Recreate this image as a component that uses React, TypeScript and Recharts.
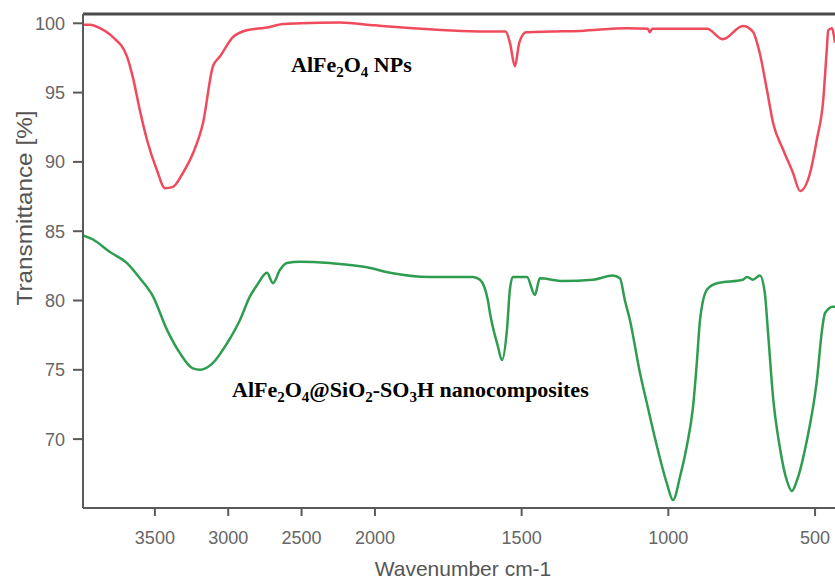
import { LineChart, Line, XAxis, YAxis, ReferenceLine } from 'recharts';

// AlFe2O4 NPs spectrum: wavenumber (cm-1) and transmittance (%)
const npWave = [3990, 3943, 3875, 3786, 3690, 3650, 3602, 3554, 3486, 3431, 3377, 3309, 3241, 3172, 3104, 3057, 2968, 2873, 2736, 2627, 2511, 2239, 2000, 1870, 1598, 1555, 1540, 1523, 1508, 1485, 1400, 1300, 1141, 1070, 1063, 1055, 868, 814, 746, 712, 688, 664, 643, 609, 575, 551, 517, 494, 472, 460, 455, 443, 432];
const npTrans = [99.9, 99.9, 99.65, 99.0, 97.6, 96.1, 93.7, 91.6, 89.4, 88.1, 88.2, 89.2, 90.6, 92.8, 96.9, 97.6, 99.0, 99.5, 99.7, 99.95, 100.0, 100.05, 99.85, 99.65, 99.4, 99.4, 98.6, 96.9, 98.6, 99.35, 99.4, 99.45, 99.65, 99.6, 99.35, 99.6, 99.6, 98.85, 99.8, 99.4, 97.8, 95.2, 92.8, 90.9, 89.2, 87.9, 89.2, 91.6, 94.5, 98.1, 99.5, 99.65, 98.6];

// AlFe2O4@SiO2-SO3H nanocomposites spectrum
const compWave = [3990, 3922, 3806, 3690, 3602, 3513, 3418, 3329, 3241, 3193, 3104, 3009, 2920, 2852, 2804, 2736, 2695, 2648, 2600, 2511, 2307, 2055, 1949, 1813, 1666, 1642, 1615, 1608, 1581, 1567, 1550, 1540, 1530, 1482, 1455, 1438, 1359, 1257, 1189, 1165, 1148, 1131, 1097, 1070, 1039, 1005, 984, 960, 937, 916, 903, 892, 868, 834, 746, 732, 712, 688, 671, 661, 643, 620, 596, 579, 562, 528, 494, 476, 466, 439, 432];
const compTrans = [84.7, 84.4, 83.5, 82.7, 81.6, 80.3, 77.9, 76.2, 75.1, 75.0, 75.5, 76.9, 78.6, 80.3, 81.1, 82.0, 81.25, 82.2, 82.7, 82.8, 82.7, 82.4, 82.0, 81.7, 81.7, 81.5, 80.0, 79.1, 76.7, 75.7, 77.9, 80.8, 81.7, 81.7, 80.4, 81.6, 81.4, 81.5, 81.8, 81.6, 80.0, 78.6, 74.8, 72.3, 69.5, 66.8, 65.6, 67.3, 69.5, 72.3, 75.5, 78.6, 80.8, 81.25, 81.5, 81.7, 81.5, 81.8, 80.5, 77.9, 73.0, 69.4, 67.0, 66.25, 67.0, 69.9, 74.2, 77.9, 79.1, 79.55, 79.55];

const xTicks = [3500, 3000, 2500, 2000, 1500, 1000, 500];
const yTicks = [70, 75, 80, 85, 90, 95, 100];

// the instrument halves the x scale above 2000 cm-1
const toPos = (w: number) => (w > 2000 ? (2000 - w) / 2 : 2000 - w);
const fromPos = (p: number) => (p < 0 ? 2000 - 2 * p : 2000 - p);

const npData = npWave.map((w, i) => ({ pos: toPos(w), value: npTrans[i] }));
const compData = compWave.map((w, i) => ({ pos: toPos(w), value: compTrans[i] }));

const Y_MAX = 100.67;
const axisColor = '#5a5a5a';
const tickFont = { fontFamily: 'Liberation Sans, Arial, sans-serif', fontSize: 18, fill: '#666' };

export default function App() {
  return (
    <div style={{ position: 'absolute', left: 0, top: 0, width: 835, height: 579, background: '#fff' }}>
      <LineChart width={835} height={579} margin={{ top: 14, right: 0, bottom: 0, left: 0 }}>
        <XAxis
          dataKey="pos"
          type="number"
          domain={[toPos(3990), toPos(432)]}
          allowDataOverflow
          ticks={xTicks.map(toPos)}
          tickFormatter={(p: number) => String(Math.round(fromPos(p)))}
          height={71}
          stroke={axisColor}
          strokeWidth={2}
          tickSize={8}
          tickMargin={15}
          tick={tickFont}
          label={() => (
            <text x={463} y={576} textAnchor="middle" fontFamily="Liberation Sans, Arial, sans-serif" fontSize={21} fill="#555">
              Wavenumber cm-1
            </text>
          )}
        />
        <YAxis
          type="number"
          domain={[65.03, Y_MAX]}
          allowDataOverflow
          ticks={yTicks}
          width={83}
          stroke={axisColor}
          strokeWidth={2}
          tickSize={10}
          tickMargin={8}
          tick={tickFont}
          label={() => (
            <text
              x={24}
              y={208}
              textAnchor="middle"
              dominantBaseline="central"
              transform="rotate(-90 24 208)"
              fontFamily="Liberation Sans, Arial, sans-serif"
              fontSize={22}
              textLength={195}
              lengthAdjust="spacingAndGlyphs"
              fill="#555"
            >
              Transmittance [%]
            </text>
          )}
        />
        <ReferenceLine y={Y_MAX} stroke="#4a4a4a" strokeWidth={3} />
        <Line data={npData} dataKey="value" type="monotone" stroke="#ef4b5c" strokeWidth={2.5} dot={false} isAnimationActive={false} />
        <Line data={compData} dataKey="value" type="monotone" stroke="#2f9d50" strokeWidth={2.5} dot={false} isAnimationActive={false} />
      </LineChart>
      <svg width={835} height={579} style={{ position: 'absolute', left: 0, top: 0, pointerEvents: 'none' }}>
        <g fontFamily="Liberation Serif, Times New Roman, serif" fontWeight="bold" fontSize={22} fill="#000">
          <text x={291} y={72}>
            AlFe<tspan dy={5} fontSize={15}>2</tspan>
            <tspan dy={-5}>O</tspan>
            <tspan dy={5} fontSize={15}>4</tspan>
            <tspan dy={-5}> NPs</tspan>
          </text>
          <text x={232} y={397}>
            AlFe<tspan dy={5} fontSize={15}>2</tspan>
            <tspan dy={-5}>O</tspan>
            <tspan dy={5} fontSize={15}>4</tspan>
            <tspan dy={-5}>@SiO</tspan>
            <tspan dy={5} fontSize={15}>2</tspan>
            <tspan dy={-5}>-SO</tspan>
            <tspan dy={5} fontSize={15}>3</tspan>
            <tspan dy={-5}>H nanocomposites</tspan>
          </text>
        </g>
      </svg>
    </div>
  );
}
